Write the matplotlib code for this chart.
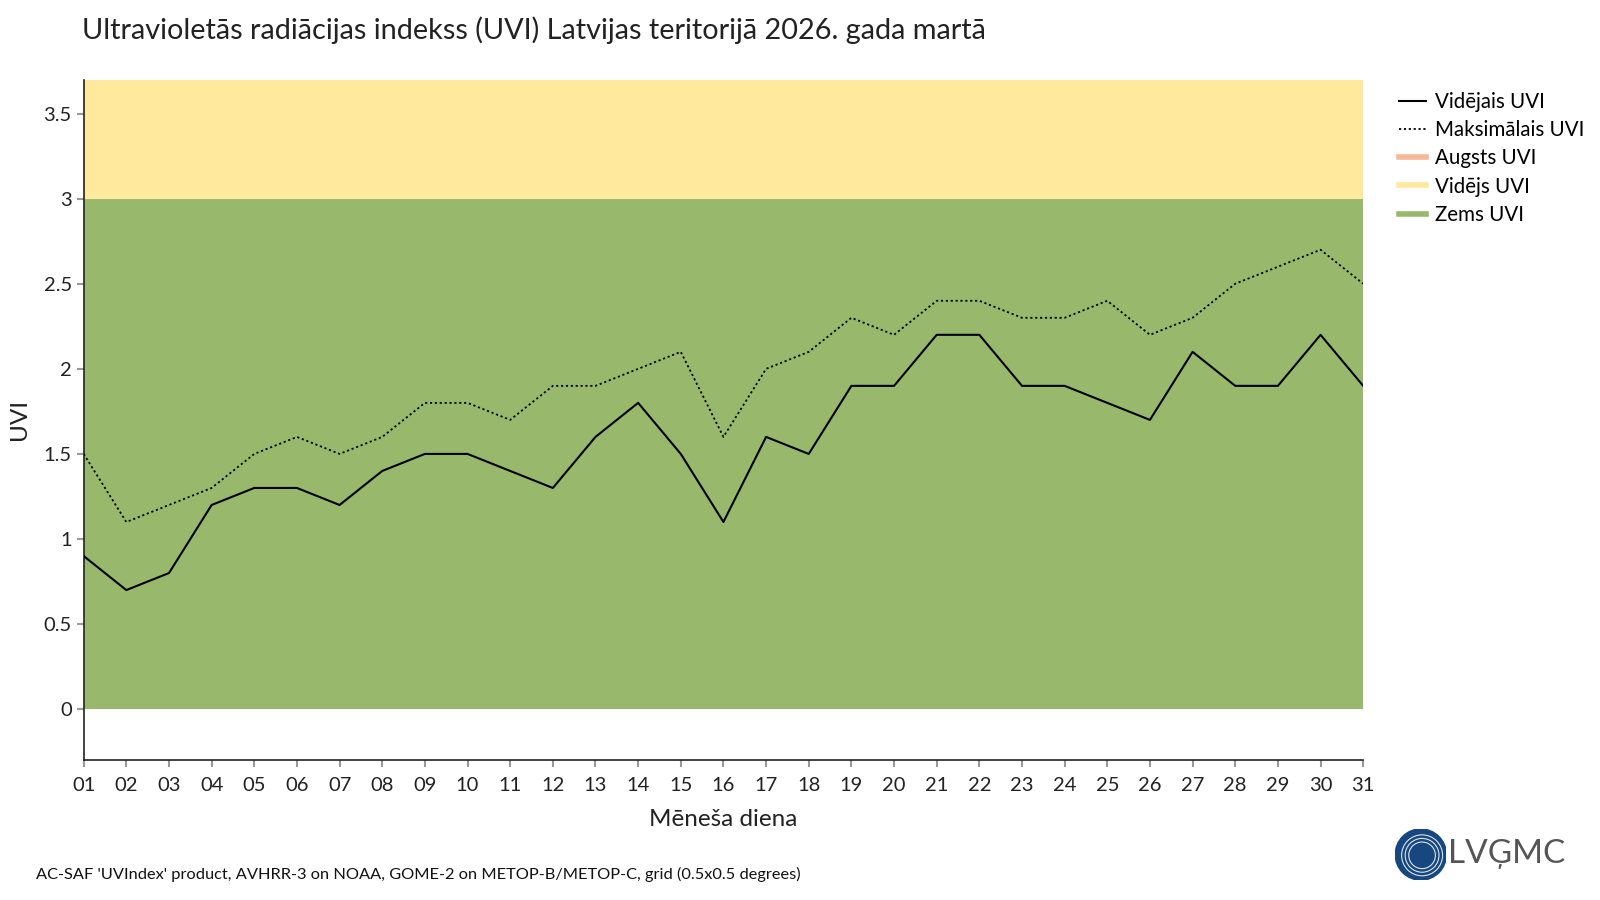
import numpy as np
import matplotlib.pyplot as plt
from matplotlib.lines import Line2D
from matplotlib.patches import Circle

plt.rcParams['font.family'] = ['Lato', 'DejaVu Sans']

# data
days = list(range(1, 32))
day_labels = [f"{d:02d}" for d in days]
mean_uvi = [0.9, 0.7, 0.8, 1.2, 1.3, 1.3, 1.2, 1.4, 1.5, 1.5, 1.4, 1.3, 1.6, 1.8, 1.5, 1.1,
            1.6, 1.5, 1.9, 1.9, 2.2, 2.2, 1.9, 1.9, 1.8, 1.7, 2.1, 1.9, 1.9, 2.2, 1.9]
max_uvi = [1.5, 1.1, 1.2, 1.3, 1.5, 1.6, 1.5, 1.6, 1.8, 1.8, 1.7, 1.9, 1.9, 2.0, 2.1, 1.6,
           2.0, 2.1, 2.3, 2.2, 2.4, 2.4, 2.3, 2.3, 2.4, 2.2, 2.3, 2.5, 2.6, 2.7, 2.5]
y_ticks = [0, 0.5, 1, 1.5, 2, 2.5, 3, 3.5]
y_tick_labels = ["0", "0.5", "1", "1.5", "2", "2.5", "3", "3.5"]

# UVI level bands
low_band = (0, 3)
mid_band = (3, 6)

col_low = "#98b96b"
col_mid = "#fee99d"
col_high = "#f8b797"

fig = plt.figure(figsize=(16, 9), dpi=100)
ax = fig.add_axes([0.0523, 0.1553, 0.7997, 0.7563])

ax.fill_between([days[0], days[-1]], low_band[0], low_band[1], color=col_low, lw=0, zorder=1)
ax.fill_between([days[0], days[-1]], mid_band[0], mid_band[1], color=col_mid, lw=0, zorder=1)

ax.plot(days, mean_uvi, color="black", lw=1.5, zorder=3)
ax.plot(days, max_uvi, color="black", lw=1.3, ls=(0, (1.2, 1.5)), zorder=3)

ax.set_xlim(days[0], days[-1])
ax.set_ylim(-0.3, 3.7)
ax.set_xticks(days)
ax.set_xticklabels(day_labels)
ax.set_yticks(y_ticks)
ax.set_yticklabels(y_tick_labels)
ax.tick_params(axis="both", colors="#999999", labelcolor="#222222", labelsize=14.5, length=5, width=1.5)
ax.tick_params(axis="x", pad=7)

for s in ["top", "right"]:
    ax.spines[s].set_visible(False)
for s in ["left", "bottom"]:
    ax.spines[s].set_color("#222222")
    ax.spines[s].set_linewidth(1.2)

ax.set_xlabel("Mēneša diena", fontsize=17.5, color="#222222", labelpad=11)
ax.set_ylabel("UVI", fontsize=17.5, color="#222222", labelpad=10)

fig.text(0.051, 0.966, "Ultravioletās radiācijas indekss (UVI) Latvijas teritorijā 2026. gada martā",
         fontsize=20.8, color="#222222", va="center", ha="left")
fig.text(0.0223, 0.028, "AC-SAF 'UVIndex' product, AVHRR-3 on NOAA, GOME-2 on METOP-B/METOP-C, grid (0.5x0.5 degrees)",
         fontsize=11.8, color="#111111", va="center", ha="left")

handles = [
    Line2D([], [], color="black", lw=1.5),
    Line2D([], [], color="black", lw=1.3, ls=(0, (1.2, 1.5))),
    Line2D([], [], color=col_high, lw=4),
    Line2D([], [], color=col_mid, lw=4),
    Line2D([], [], color=col_low, lw=4),
]
labels = ["Vidējais UVI", "Maksimālais UVI", "Augsts UVI", "Vidējs UVI", "Zems UVI"]
fig.legend(handles, labels, loc="upper left", bbox_to_anchor=(0.869, 0.907), frameon=False,
           fontsize=14.8, handlelength=1.35, handletextpad=0.4, labelspacing=0.4, borderaxespad=0)

# logo
lax = fig.add_axes([0.872, 0.022, 0.032, 0.057])
lax.set_xlim(-1, 1)
lax.set_ylim(-1, 1)
lax.set_aspect("equal")
lax.axis("off")
lax.add_patch(Circle((0, 0), 1, color="#17477f"))
for r in [0.8, 0.66, 0.52]:
    lax.add_patch(Circle((0.05, -0.03), r, fill=False, ec="white", lw=0.8, alpha=0.85))
fig.text(0.905, 0.051, "LVĢMC", fontsize=24, color="#555555", va="center", ha="left")

fig.savefig("out.png", dpi=100)
